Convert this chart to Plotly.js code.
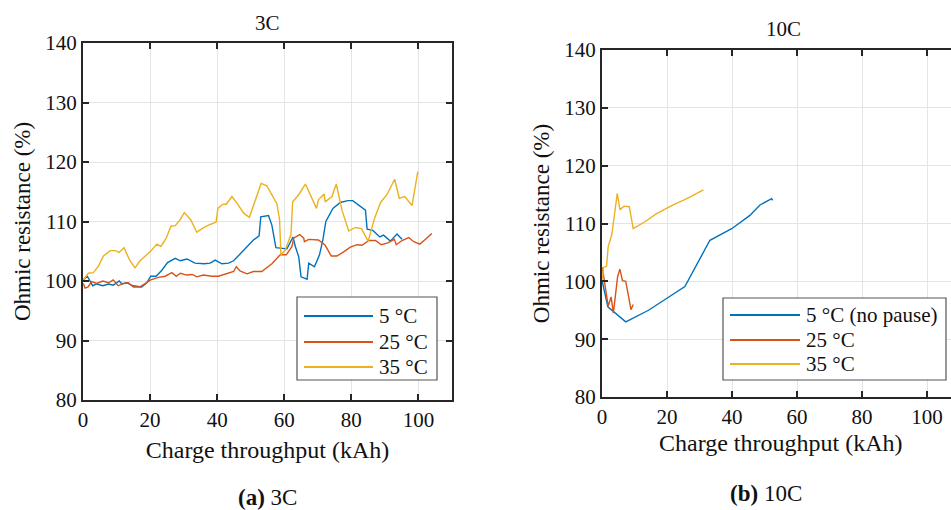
<!DOCTYPE html>
<html>
<head>
<meta charset="utf-8">
<script src="https://cdn.plot.ly/plotly-3.0.1.min.js"></script>
<style>
html,body{margin:0;padding:0;overflow:hidden;background:#fff;}
#chart{width:960px;height:510px;}
#chart text{font-family:'Liberation Serif' !important;}
</style>
</head>
<body>
<div id="chart"></div>
<script>
// ---- Data: 3C panel ----
var x3_5C = [0.1,1.3,2.9,4.1,5.9,7.6,9.0,10.8,11.6,13.1,14.9,17.5,19.0,20.2,21.8,23.5,25.2,27.5,29.0,31.0,33.4,36.1,37.9,39.4,41.4,43.4,44.9,46.9,48.9,50.8,52.5,53.0,55.3,56.3,57.5,59.3,60.8,62.6,63.3,64.3,65.0,66.8,67.3,69.0,70.5,71.5,72.4,74.5,76.7,79.0,80.4,84.2,84.7,86.4,88.5,89.6,91.6,93.6,95.1];
var y3_5C = [100.2,100.8,99.2,99.5,99.2,99.5,99.3,100.0,99.5,99.7,99.2,99.0,99.7,100.8,100.8,101.8,103.1,103.8,103.4,103.7,103.0,102.9,103.0,103.5,102.9,103.0,103.4,104.6,105.8,106.9,107.6,110.8,111.0,109.4,105.6,105.5,105.4,107.4,105.8,104.1,100.7,100.3,103.0,102.4,104.4,106.9,110.0,112.2,113.2,113.5,113.5,111.9,108.7,108.5,107.4,107.7,106.7,107.9,107.0];

var x3_25C = [0.1,0.6,1.5,2.6,4.1,5.9,7.6,9.0,10.5,12.0,13.5,15.0,17.0,18.5,20.2,22.5,24.5,26.5,27.8,29.0,30.9,32.6,33.9,35.9,38.4,40.4,42.9,44.9,45.7,46.8,48.9,50.8,53.3,56.3,58.8,60.6,62.3,62.8,64.6,65.8,66.0,67.3,70.2,72.2,74.0,75.7,77.7,79.7,81.7,83.2,85.2,87.2,88.9,90.9,92.8,93.4,95.1,97.1,98.6,100.4,102.1,104.0];
var y3_25C = [99.6,98.8,99.0,99.9,99.6,100.0,99.7,100.2,99.2,99.6,99.7,99.0,99.0,99.6,100.2,100.6,100.8,101.4,100.8,101.3,101.0,101.1,100.7,101.0,100.8,100.8,101.2,101.6,102.4,101.7,101.2,101.6,101.6,102.9,104.4,104.4,105.8,107.2,107.8,107.2,106.6,107.0,106.9,106.0,104.2,104.2,104.9,105.7,106.1,106.0,106.8,106.8,106.1,106.4,107.0,106.1,106.8,107.3,106.6,106.2,107.0,108.0];

var x3_35C = [0.1,1.6,3.1,4.6,6.1,8.1,9.6,10.8,12.2,14.0,15.5,17.0,19.0,20.5,22.0,23.2,24.8,26.2,27.5,28.7,30.2,32.1,33.9,36.1,37.9,39.7,40.2,41.7,42.7,44.4,45.9,47.9,49.6,51.3,53.1,54.8,56.6,57.8,58.6,59.0,60.3,62.0,62.5,64.3,66.3,68.0,69.6,70.2,71.9,72.2,74.2,75.5,77.2,79.2,81.2,83.0,85.0,86.9,88.7,90.6,92.9,94.3,95.9,98.1,99.8];
var y3_35C = [100.2,101.3,101.4,102.5,104.2,105.1,105.1,104.8,105.6,103.4,102.2,103.4,104.4,105.2,106.2,105.8,107.2,109.2,109.3,110.1,111.5,110.3,108.2,109.0,109.5,109.9,112.2,112.9,112.9,114.2,113.1,111.4,110.7,113.6,116.4,116.0,114.2,113.0,110.3,104.4,105.2,107.8,113.3,114.5,116.3,114.2,112.2,113.7,114.6,113.3,114.2,116.3,111.9,108.4,109.0,108.8,106.7,110.5,113.2,114.5,117.1,113.9,114.2,112.7,118.4];

// ---- Data: 10C panel ----
var x10_5C = [0,1.8,7.3,14.3,25.5,33.2,39.9,45.5,48.6,52.2,52.5];
var y10_5C = [100.2,95.6,93.0,95.0,99.1,107.1,109.1,111.4,113.2,114.3,114.0];
var x10_25C = [0.1,0.7,1.4,1.9,2.8,3.5,4.8,5.5,6.3,7.3,8.1,8.9,9.6];
var y10_25C = [102.4,100.2,97.6,95.7,97.3,94.5,100.8,102.1,100.1,100.0,97.6,95.1,96.0];
var x10_35C = [0.2,0.4,1.4,1.9,3.0,3.7,4.7,5.5,6.8,8.4,9.6,13.2,16.8,21.9,26.1,31.2];
var y10_35C = [100.3,102.4,102.6,106.0,108.0,110.9,115.2,112.4,113.0,112.9,109.1,110.3,111.7,113.2,114.3,115.8];

// ---- Labels ----
var names3 = ['5 °C','25 °C','35 °C'];
var names10 = ['5 °C (no pause)','25 °C','35 °C'];
var colors = ['#0072BD','#D95319','#EDB120'];
var panelTitles = ['3C','10C'];
var captions = ['<b>(a)</b> 3C','<b>(b)</b> 10C'];
var xTitle = 'Charge throughput (kAh)';
var yTitle = 'Ohmic resistance (%)';

var W = 960, H = 510;
function px(x){return x/W;}
function py(y){return 1 - y/H;}

var FONT = 'Liberation Serif';
var TXT = '#111';

var traces = [];
var d3s = [[x3_5C,y3_5C],[x3_25C,y3_25C],[x3_35C,y3_35C]];
var d10s = [[x10_5C,y10_5C],[x10_25C,y10_25C],[x10_35C,y10_35C]];
d3s.forEach(function(d,i){
  traces.push({x:d[0],y:d[1],type:'scatter',mode:'lines',name:names3[i],
    line:{color:colors[i],width:1.4},xaxis:'x',yaxis:'y',showlegend:false});
});
d10s.forEach(function(d,i){
  traces.push({x:d[0],y:d[1],type:'scatter',mode:'lines',name:names10[i],
    line:{color:colors[i],width:1.4},xaxis:'x2',yaxis:'y2',showlegend:false});
});

function axis(extra){
  var a = {showline:true, mirror:'ticks', linecolor:'#262626', linewidth:2,
    ticks:'inside', ticklen:6, tickwidth:2, tickcolor:'#262626',
    showgrid:true, gridcolor:'#e4e4e4', gridwidth:1, zeroline:false,
    automargin:false,
    tickfont:{family:FONT,size:21,color:TXT}};
  for (var k in extra) a[k]=extra[k];
  return a;
}

var shapes = [], annotations = [];

// Legends (drawn as boxes with sample lines)
function legend(box, names, rows, lineX0, lineX1, textX){
  shapes.push({type:'rect',xref:'paper',yref:'paper',
    x0:px(box[0]),x1:px(box[1]),y0:py(box[3]),y1:py(box[2]),
    line:{color:'#555',width:1.2},fillcolor:'#fff',layer:'above'});
  names.forEach(function(n,i){
    shapes.push({type:'line',xref:'paper',yref:'paper',
      x0:px(lineX0),x1:px(lineX1),y0:py(rows[i]),y1:py(rows[i]),
      line:{color:colors[i],width:2},layer:'above'});
    annotations.push({xref:'paper',yref:'paper',x:px(textX),y:py(rows[i]),
      xanchor:'left',yanchor:'middle',showarrow:false,text:n,
      font:{family:FONT,size:21,color:TXT}});
  });
}
legend([297,437,297,380], names3, [316,342,367], 304, 373, 377);
legend([723,946,298,380], names10, [315,340,364], 730, 800, 804);

// Panel titles
annotations.push({xref:'paper',yref:'paper',x:px(267),y:py(23),xanchor:'center',yanchor:'middle',
  showarrow:false,text:panelTitles[0],font:{family:FONT,size:21,color:TXT}});
annotations.push({xref:'paper',yref:'paper',x:px(783),y:py(29),xanchor:'center',yanchor:'middle',
  showarrow:false,text:panelTitles[1],font:{family:FONT,size:21,color:TXT}});
// Captions
annotations.push({xref:'paper',yref:'paper',x:px(267),y:py(497),xanchor:'center',yanchor:'middle',
  showarrow:false,text:captions[0],font:{family:FONT,size:23,color:TXT}});
annotations.push({xref:'paper',yref:'paper',x:px(766),y:py(493),xanchor:'center',yanchor:'middle',
  showarrow:false,text:captions[1],font:{family:FONT,size:23,color:TXT}});

var layout = {
  width:W, height:H, margin:{l:0,r:0,t:0,b:0},
  paper_bgcolor:'#fff', plot_bgcolor:'#fff', showlegend:false,
  font:{family:FONT, color:TXT},
  xaxis: axis({domain:[px(83),px(452)], range:[0,110], tickvals:[0,20,40,60,80,100], anchor:'y',
    title:{text:xTitle, font:{family:FONT,size:24,color:TXT}, standoff:10}}),
  yaxis: axis({domain:[py(400),py(43)], range:[80,140], tickvals:[80,90,100,110,120,130,140], anchor:'x',
    title:{text:yTitle, font:{family:FONT,size:23,color:TXT}, standoff:8}}),
  xaxis2: axis({domain:[px(602),px(959.5)], range:[0,110], tickvals:[0,20,40,60,80,100], anchor:'y2',
    title:{text:xTitle, font:{family:FONT,size:24,color:TXT}, standoff:6}}),
  yaxis2: axis({domain:[py(397),py(50)], range:[80,140], tickvals:[80,90,100,110,120,130,140], anchor:'x2',
    title:{text:yTitle, font:{family:FONT,size:23,color:TXT}, standoff:8}}),
  shapes:shapes, annotations:annotations
};

Plotly.newPlot('chart', traces, layout, {staticPlot:true, displayModeBar:false});
</script>
</body>
</html>
